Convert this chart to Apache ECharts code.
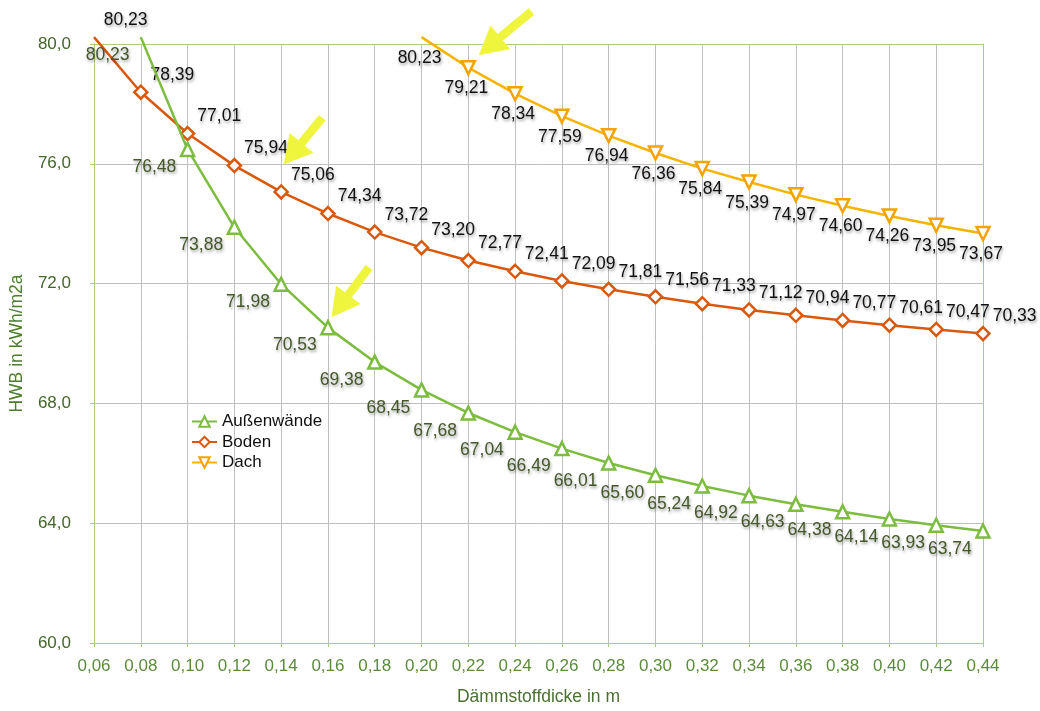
<!DOCTYPE html>
<html>
<head>
<meta charset="utf-8">
<script src="https://cdn.jsdelivr.net/npm/echarts@6/dist/echarts.min.js"></script>
<style>
  html, body { margin: 0; padding: 0; background: #fff; }
  #chart { width: 1040px; height: 711px; }
</style>
</head>
<body>
<div id="chart"></div>
<script>
// Insulation thickness (m) on the category axis
const categories = ['0,06', '0,08', '0,10', '0,12', '0,14', '0,16', '0,18', '0,20', '0,22', '0,24',
  '0,26', '0,28', '0,30', '0,32', '0,34', '0,36', '0,38', '0,40', '0,42', '0,44'];

// Heating demand HWB in kWh/m2a per component
const aussenwaende = [null, 80.23, 76.48, 73.88, 71.98, 70.53, 69.38, 68.45, 67.68, 67.04,
  66.49, 66.01, 65.60, 65.24, 64.92, 64.63, 64.38, 64.14, 63.93, 63.74];
const boden = [80.23, 78.39, 77.01, 75.94, 75.06, 74.34, 73.72, 73.20, 72.77, 72.41,
  72.09, 71.81, 71.56, 71.33, 71.12, 70.94, 70.77, 70.61, 70.47, 70.33];
const dach = [null, null, null, null, null, null, null, 80.23, 79.21, 78.34,
  77.59, 76.94, 76.36, 75.84, 75.39, 74.97, 74.60, 74.26, 73.95, 73.67];

// Value axis range
const yMin = 60, yMax = 80, yStep = 4;

const FONT = '"Liberation Sans", Arial, Helvetica, sans-serif';
const GREEN = '#7cbc3e', ORANGE = '#d9580c', YELLOW = '#f6b400';
const AXIS_GREEN = '#a6cf7c', GRID_GRAY = '#bfbfbf';

const fmt2 = v => v.toFixed(2).replace('.', ',');
const fmt1 = v => v.toFixed(1).replace('.', ',');

// The first point of each curve sits above the plot top: keep its label, hide its marker
function buildData(values) {
  const first = values.findIndex(v => v != null);
  return values.map((v, i) => {
    if (v == null) return null;
    if (i === first) {
      return { value: v, itemStyle: { color: 'transparent', borderColor: 'transparent' } };
    }
    return v;
  });
}

const labelShadow = {
  textShadowColor: 'rgba(0,0,0,0.38)',
  textShadowBlur: 3,
  textShadowOffsetX: 1,
  textShadowOffsetY: 2
};

const chart = echarts.init(document.getElementById('chart'), null, { renderer: 'canvas' });

const gridBox = { left: 94, right: 57, top: 44, bottom: 64 };

const option = {
  animation: false,
  backgroundColor: '#ffffff',
  textStyle: { fontFamily: FONT },
  grid: Object.assign({ containLabel: false }, gridBox),
  legend: {
    orient: 'vertical',
    left: 186,
    top: 408,
    itemWidth: 25,
    itemHeight: 13,
    itemGap: 3.5,
    textStyle: { fontFamily: FONT, fontSize: 17, color: '#111', lineHeight: 17 },
    data: ['Außenwände', 'Boden', 'Dach']
  },
  xAxis: [
    {
      type: 'category', data: categories, boundaryGap: false, position: 'bottom', z: 2,
      axisLine: { lineStyle: { color: AXIS_GREEN, width: 1 } },
      axisTick: { show: true, length: 4, lineStyle: { color: AXIS_GREEN } },
      axisLabel: { color: '#5b8c3a', fontSize: 17, fontFamily: FONT, margin: 15, interval: 0 },
      splitLine: { show: false },
      name: 'Dämmstoffdicke in m', nameLocation: 'middle', nameGap: 45,
      nameTextStyle: { color: '#4b7032', fontSize: 17.5, fontFamily: FONT }
    },
    {
      type: 'category', data: categories, boundaryGap: false, position: 'top', z: 2,
      axisLine: { lineStyle: { color: AXIS_GREEN, width: 1 } },
      axisTick: { show: false }, axisLabel: { show: false }, splitLine: { show: false }
    },
    {
      type: 'category', data: categories, boundaryGap: false, position: 'bottom', z: 0,
      axisLine: { show: false }, axisTick: { show: false }, axisLabel: { show: false },
      splitLine: { show: true, interval: 0, lineStyle: { color: GRID_GRAY, width: 1 } }
    }
  ],
  yAxis: [
    {
      type: 'value', min: yMin, max: yMax, interval: yStep, position: 'left', z: 2,
      axisLine: { show: true, lineStyle: { color: AXIS_GREEN, width: 1 } },
      axisTick: { show: true, length: 4, lineStyle: { color: AXIS_GREEN } },
      axisLabel: { color: '#46642b', fontSize: 17, fontFamily: FONT, margin: 23, formatter: fmt1 },
      splitLine: { show: false },
      name: 'HWB in kWh/m2a', nameLocation: 'middle', nameGap: 68, nameRotate: 90,
      nameTextStyle: { color: '#4e7d2f', fontSize: 17.5, fontFamily: FONT }
    },
    {
      type: 'value', min: yMin, max: yMax, interval: yStep, position: 'right', z: 2,
      axisLine: { show: true, lineStyle: { color: AXIS_GREEN, width: 1 } },
      axisTick: { show: false }, axisLabel: { show: false }, splitLine: { show: false }
    },
    {
      type: 'value', min: yMin, max: yMax, interval: yStep, position: 'left', z: 0,
      axisLine: { show: false }, axisTick: { show: false }, axisLabel: { show: false },
      splitLine: { show: true, lineStyle: { color: GRID_GRAY, width: 1 } }
    }
  ],
  series: [
    {
      name: 'Außenwände', type: 'line', xAxisIndex: 0, yAxisIndex: 0, z: 4,
      data: buildData(aussenwaende), clip: false, connectNulls: false,
      symbol: 'triangle', symbolSize: 13, showAllSymbol: true,
      lineStyle: { color: GREEN, width: 2.5 },
      itemStyle: { color: '#fff', borderColor: GREEN, borderWidth: 2.5 },
      label: Object.assign({
        show: true, position: 'left', distance: 5, offset: [1.5, 18],
        fontSize: 17.5, fontFamily: FONT, color: '#44582a',
        formatter: p => fmt2(p.value)
      }, labelShadow),
      emphasis: { disabled: true }
    },
    {
      name: 'Boden', type: 'line', xAxisIndex: 0, yAxisIndex: 0, z: 3,
      data: buildData(boden), clip: false,
      symbol: 'diamond', symbolSize: 13, showAllSymbol: true,
      lineStyle: { color: ORANGE, width: 2.5 },
      itemStyle: { color: '#fff', borderColor: ORANGE, borderWidth: 2.5 },
      label: Object.assign({
        show: true, position: 'right', distance: 5, offset: [-3, -17],
        fontSize: 17.5, fontFamily: FONT, color: '#111',
        formatter: p => fmt2(p.value)
      }, labelShadow),
      emphasis: { disabled: true }
    },
    {
      name: 'Dach', type: 'line', xAxisIndex: 0, yAxisIndex: 0, z: 3,
      data: buildData(dach), clip: false,
      symbol: 'triangle', symbolRotate: 180, symbolSize: 13, showAllSymbol: true,
      lineStyle: { color: YELLOW, width: 2.5 },
      itemStyle: { color: '#fff', borderColor: '#f5a300', borderWidth: 2.5 },
      label: Object.assign({
        show: true, position: 'bottom', distance: 5, offset: [-2, -1],
        fontSize: 17.5, fontFamily: FONT, color: '#111',
        formatter: p => fmt2(p.value)
      }, labelShadow),
      emphasis: { disabled: true }
    }
  ]
};

chart.setOption(option);

// Highlight arrows: anchored to a data point, tip shifted by a few pixels,
// shaft running back towards the upper right
const arrowSpecs = [
  { values: dach, index: 8, tip: [11, -13], back: [52, -43] },
  { values: boden, index: 4, tip: [3, -28], back: [38, -46] },
  { values: aussenwaende, index: 5, tip: [4, -11], back: [37, -49] }
];

function arrowPoints(tipX, tipY, bx, by) {
  const len = Math.hypot(bx, by);
  const ux = bx / len, uy = by / len;    // along the shaft
  const nx = -uy, ny = ux;               // across the shaft
  const headLen = 27, headHalf = 15, shaftHalf = 4;
  const hx = tipX + ux * headLen, hy = tipY + uy * headLen;
  const tx = tipX + bx, ty = tipY + by;
  return [
    [tipX, tipY],
    [hx + nx * headHalf, hy + ny * headHalf],
    [hx + nx * shaftHalf, hy + ny * shaftHalf],
    [tx + nx * shaftHalf, ty + ny * shaftHalf],
    [tx - nx * shaftHalf, ty - ny * shaftHalf],
    [hx - nx * shaftHalf, hy - ny * shaftHalf],
    [hx - nx * headHalf, hy - ny * headHalf]
  ];
}

const arrows = arrowSpecs.map(a => {
  const p = chart.convertToPixel({ xAxisIndex: 0, yAxisIndex: 0 }, [a.index, a.values[a.index]]);
  return {
    type: 'polygon',
    z: 100,
    shape: { points: arrowPoints(p[0] + a.tip[0], p[1] + a.tip[1], a.back[0], a.back[1]) },
    style: { fill: '#eef53c', stroke: 'rgba(238,245,60,0.6)', lineWidth: 1 }
  };
});

chart.setOption({ graphic: arrows });
</script>
</body>
</html>
